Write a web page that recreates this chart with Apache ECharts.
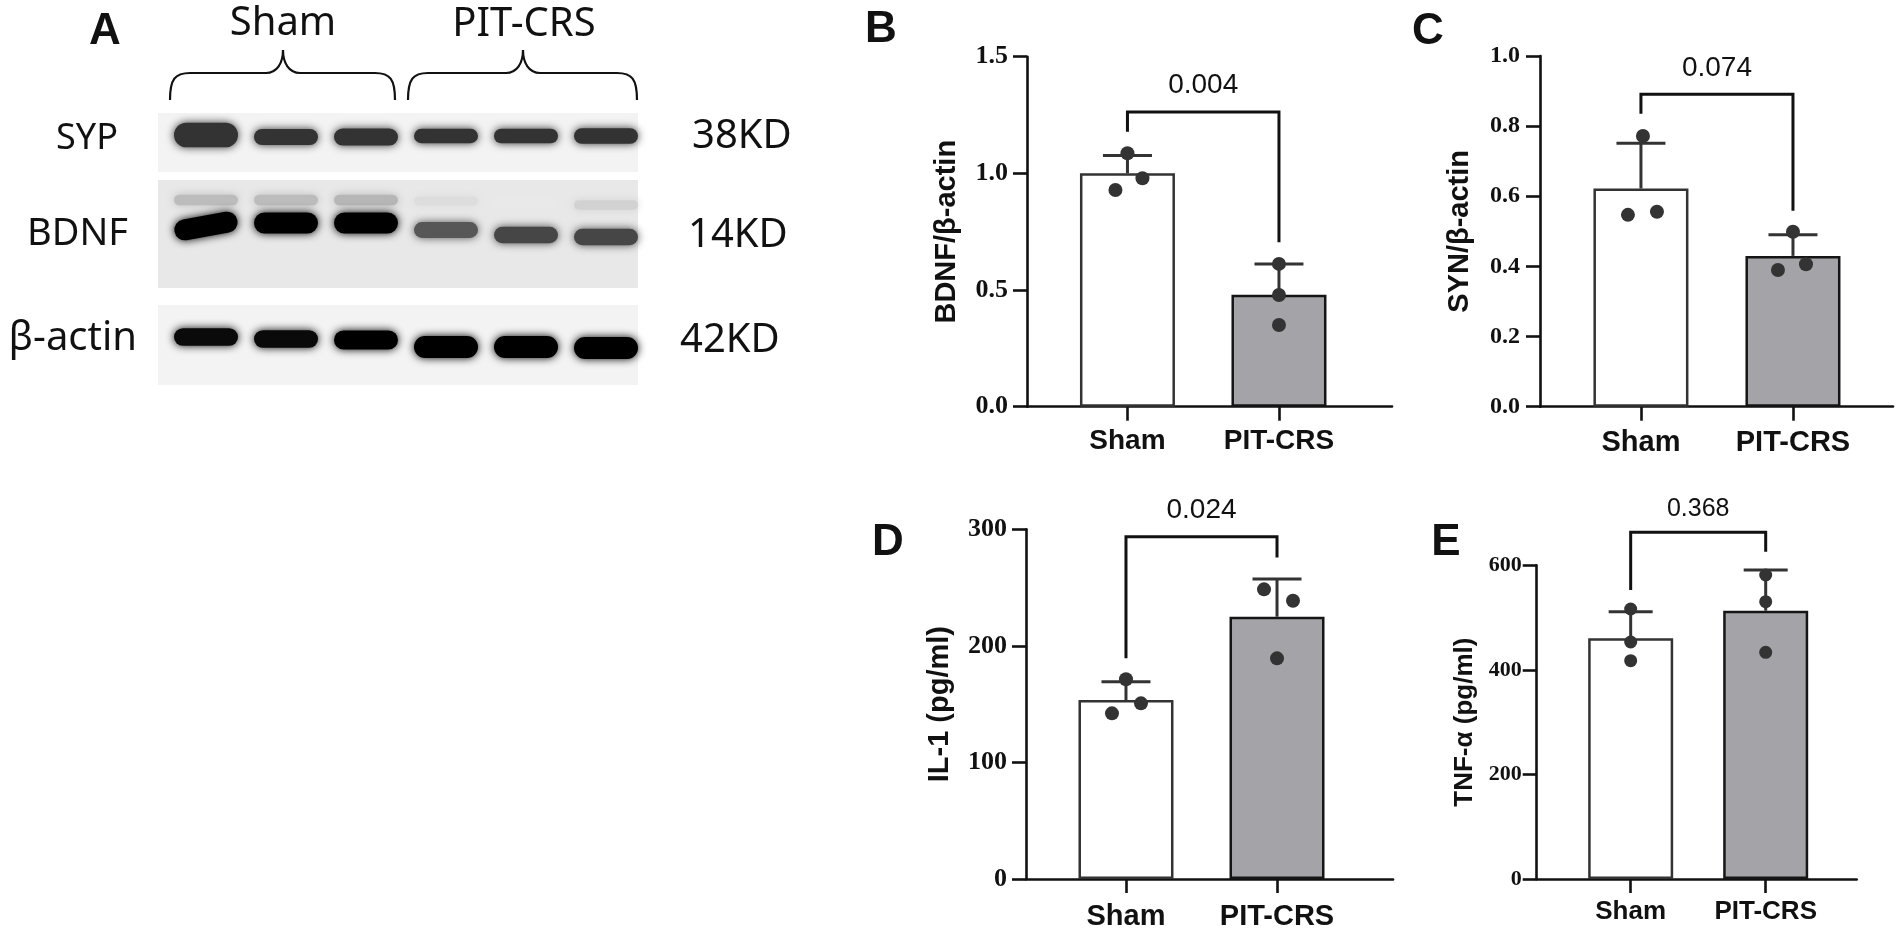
<!DOCTYPE html>
<html><head><meta charset="utf-8">
<script src="https://cdn.jsdelivr.net/npm/echarts@6/dist/echarts.min.js"></script>
<style>html,body{margin:0;padding:0;background:#fff}#c{width:1902px;height:933px}</style>
</head><body><div id="c"></div><script>
// ---------------- data ----------------
const groups = ['Sham', 'PIT-CRS'];
const lanes = ['Sham-1', 'Sham-2', 'Sham-3', 'PIT-CRS-1', 'PIT-CRS-2', 'PIT-CRS-3'];
const proteins = ['SYP', 'BDNF', 'β-actin'];
const weights = ['38KD', '14KD', '42KD'];
// relative band intensity per lane (western blot, panel A)
const sypBand = [0.95, 0.62, 0.66, 0.55, 0.56, 0.6];
const bdnfBand = [1.0, 1.0, 1.0, 0.6, 0.66, 0.66];
const bdnfUpperBand = [0.24, 0.24, 0.26, 0.12, 0.08, 0.16];
const actinBand = [0.8, 0.8, 0.86, 1.0, 1.0, 1.0];

// panel B: BDNF/β-actin
const bdnfMean = [1.0, 0.48];
const bdnfUpper = [1.077, 0.612];
const bdnfSham = [1.086, 0.979, 0.929];
const bdnfPit = [0.612, 0.479, 0.35];
const bdnfBracket = [1.263, 1.178, 0.705];
const bdnfP = '0.004';
// panel C: SYN/β-actin
const synMean = [0.622, 0.430];
const synUpper = [0.751, 0.49];
const synSham = [0.772, 0.547, 0.556];
const synPit = [0.499, 0.390, 0.406];
const synBracket = [0.891, 0.835, 0.559];
const synP = '0.074';
// panel D: IL-1
const il1Mean = [153.5, 225];
const il1Upper = [169.2, 257.3];
const il1Sham = [171.3, 150.7, 142.1];
const il1Pit = [248.5, 238.7, 189.3];
const il1Bracket = [293.6, 189.3, 275.9];
const il1P = '0.024';
// panel E: TNF-α
const tnfMean = [460.4, 513.2];
const tnfUpper = [511.3, 591];
const tnfSham = [516.4, 453.3, 417.6];
const tnfPit = [581.4, 530.4, 433.6];
const tnfBracket = [663, 552.7, 626];
const tnfP = '0.368';

// ---------------- layout / style ----------------
const FILL = ['#ffffff', '#a4a4a8'];
const EDGE = ['#333333', '#151515'];
const panels = [
  {title:'BDNF/β-actin', mean:bdnfMean, upper:bdnfUpper, pts:[bdnfSham, bdnfPit], br:bdnfBracket, p:bdnfP,
   jit:[[0,15,-12],[0,0,0]], ax:1027, top:56.7, bot:406.7, xEnd:1392, xmin:-0.663, xmax:1.746,
   yMax:1.5, yInt:0.5, dec:1, barW:95, capW:49, dot:14, yLabSize:26, yLabMargin:19,
   xLabSize:28, xLabMargin:21, titleSize:29, nameGap:66, pSize:28, pGap:26.7},
  {title:'SYN/β-actin', mean:synMean, upper:synUpper, pts:[synSham, synPit], br:synBracket, p:synP,
   jit:[[2,-13,16],[0,-15,13]], ax:1540, top:56, bot:406.7, xEnd:1893, xmin:-0.664, xmax:1.658,
   yMax:1.0, yInt:0.2, dec:1, barW:95, capW:49, dot:14, yLabSize:24, yLabMargin:20,
   xLabSize:29, xLabMargin:21.5, titleSize:29, nameGap:65.5, pSize:28, pGap:25.7},
  {title:'IL-1 (pg/ml)', mean:il1Mean, upper:il1Upper, pts:[il1Sham, il1Pit], br:il1Bracket, p:il1P,
   jit:[[0,15,-14],[-13,16,0]], ax:1026, top:529.3, bot:879, xEnd:1393, xmin:-0.662, xmax:1.768,
   yMax:300, yInt:100, dec:0, barW:95, capW:49, dot:14, yLabSize:26, yLabMargin:19,
   xLabSize:29, xLabMargin:23, titleSize:29, nameGap:71.5, pSize:28, pGap:26.7},
  {title:'TNF-α (pg/ml)', mean:tnfMean, upper:tnfUpper, pts:[tnfSham, tnfPit], br:tnfBracket, p:tnfP,
   jit:[[0,0,0],[0,0,0]], ax:1536.7, top:565.3, bot:879, xEnd:1856.7, xmin:-0.696, xmax:1.674,
   yMax:600, yInt:200, dec:0, barW:85, capW:44, dot:13, yLabSize:22, yLabMargin:15,
   xLabSize:26, xLabMargin:19.5, titleSize:26, nameGap:59, pSize:25, pGap:23}
];

const grids = [], xAxes = [], yAxes = [], series = [];
const AX = '#111';
panels.forEach((P, i) => {
  grids.push({left:P.ax, top:P.top, width:P.xEnd - P.ax, height:P.bot - P.top, containLabel:false, outerBoundsMode:'none'});
  xAxes.push({gridIndex:i, type:'value', min:P.xmin, max:P.xmax,
    axisLine:{show:true, onZero:false, lineStyle:{color:AX, width:2.6}},
    axisTick:{show:true, customValues:[0,1], length:14, lineStyle:{color:AX, width:2.6}},
    axisLabel:{show:true, customValues:[0,1], formatter:v => groups[Math.round(v)], margin:P.xLabMargin,
      fontFamily:'Liberation Sans', fontWeight:'bold', fontSize:P.xLabSize, color:AX},
    splitLine:{show:false}});
  yAxes.push({gridIndex:i, type:'value', min:0, max:P.yMax, interval:P.yInt,
    axisLine:{show:true, onZero:false, lineStyle:{color:AX, width:2.6}},
    axisTick:{show:true, length:14, lineStyle:{color:AX, width:2.6}},
    axisLabel:{formatter:v => v.toFixed(P.dec), margin:P.yLabMargin,
      fontFamily:'Liberation Serif', fontWeight:'bold', fontSize:P.yLabSize, color:AX},
    splitLine:{show:false},
    name:P.title, nameLocation:'middle', nameGap:P.nameGap, nameRotate:90, nameMoveOverlap:false,
    nameTextStyle:{fontFamily:'Liberation Sans', fontWeight:'bold', fontSize:P.titleSize, color:AX}});
  series.push({type:'bar', xAxisIndex:i, yAxisIndex:i, barWidth:P.barW, z:2,
    data:P.mean.map((m, j) => ({value:[j, m], itemStyle:{color:FILL[j], borderColor:EDGE[j], borderWidth:2.5}}))});
  series.push({type:'custom', xAxisIndex:i, yAxisIndex:i, z:3,
    data:P.mean.map((m, j) => [j, m, P.upper[j]]),
    renderItem:(params, api) => {
      const x = api.value(0), p0 = api.coord([x, api.value(1)]), p1 = api.coord([x, api.value(2)]);
      const h = P.capW / 2;
      return {type:'group', children:[
        {type:'line', shape:{x1:p0[0], y1:p0[1], x2:p1[0], y2:p1[1]}, style:{stroke:'#333', lineWidth:3}},
        {type:'line', shape:{x1:p1[0]-h, y1:p1[1], x2:p1[0]+h, y2:p1[1]}, style:{stroke:'#333', lineWidth:3}}]};
    }});
  series.push({type:'scatter', xAxisIndex:i, yAxisIndex:i, z:4, symbolSize:P.dot,
    itemStyle:{color:'#333', opacity:1},
    data:P.pts.flatMap((pts, j) => pts.map((v, k) => ({value:[j, v], symbolOffset:[P.jit[j][k], 0]})))});
  series.push({type:'custom', xAxisIndex:i, yAxisIndex:i, z:5,
    data:[[0.5, P.br[0], P.br[1], P.br[2]]],
    renderItem:(params, api) => {
      const top = api.value(1);
      const a = api.coord([0, api.value(2)]), b = api.coord([0, top]), c = api.coord([1, top]), d = api.coord([1, api.value(3)]);
      return {type:'group', children:[
        {type:'polyline', shape:{points:[a, b, c, d]}, style:{stroke:'#111', lineWidth:3, fill:'none'}},
        {type:'text', style:{text:P.p, x:(b[0]+c[0])/2, y:b[1]-P.pGap, align:'center', verticalAlign:'middle',
          textAlign:'center', textVerticalAlign:'middle', font:P.pSize + 'px "Liberation Sans"', fill:'#111'}}]};
    }});
});

// ---------------- western blot (panel A) ----------------
const BI = panels.length;
grids.push({left:166, top:88, width:480, height:300, containLabel:false, outerBoundsMode:'none'});
xAxes.push({gridIndex:BI, type:'category', data:lanes, show:false});
yAxes.push({gridIndex:BI, type:'category', data:proteins, inverse:true, show:false});
// strip: [top offset, bottom offset, colour] relative to the row centre
const STRIP = [[-25, 34, '#f3f3f3'], [-58, 50, '#e8e8e8'], [-33, 47, '#f3f3f3']];
series.push({type:'custom', xAxisIndex:BI, yAxisIndex:BI, z:1,
  data:proteins.map((p, r) => [0, r]),
  renderItem:(params, api) => {
    const r = api.value(1), c = api.coord([0, r]), cs = params.coordSys, s = STRIP[r];
    return {type:'rect', shape:{x:cs.x - 8, y:c[1] + s[0], width:cs.width, height:s[1] - s[0]},
      style:{fill:s[2]}};
  }});
// band look: per-lane vertical shift, thickness = t0 + t1*v, ink = inkMax*min(1, v*gain)
function bandSeries(vals, row, shifts, t0, t1, inkMax, gain, tilt) {
  return {type:'custom', xAxisIndex:BI, yAxisIndex:BI, z:2,
    data:vals.map((v, l) => [l, row, v]),
    renderItem:(params, api) => {
      const l = api.value(0), r = api.value(1), v = api.value(2);
      const c = api.coord([l, r]);
      const bw = api.size([1, 0])[0] * 0.8;
      const t = t0 + t1 * v;
      const g = Math.round(255 * (1 - inkMax * Math.min(1, v * gain)));
      const col = 'rgb(' + g + ',' + g + ',' + g + ')';
      const cy = c[1] + shifts[l];
      return {type:'rect', shape:{x:c[0] - bw/2, y:cy - t/2, width:bw, height:t, r:t/2},
        rotation:(tilt && tilt[l]) || 0, originX:c[0], originY:cy,
        style:{fill:col, shadowBlur:9, shadowColor:col}};
    }};
}
series.push(bandSeries(bdnfUpperBand, 1, [-38,-38,-38,-37,-35,-33], 8, 10, 1.0, 1.1));
series.push(bandSeries(sypBand, 0, [-3,-1,-1,-2,-2,-2], 0, 26, 0.8, 2.0));
series.push(bandSeries(bdnfBand, 1, [-12,-15,-15,-8,-3,-1], 8, 13, 1.0, 1.1, [0.18,0,0,0,0,0]));
series.push(bandSeries(actinBand, 2, [-1,1,2,9,9,10], 0, 22, 1.0, 1.2));

// ---------------- decorations ----------------
function txt(t, x, y, font, align) {
  return {type:'text', x:x, y:y, style:{text:t, font:font, fill:'#111', align:align || 'center', verticalAlign:'middle',
    textAlign:align || 'center', textVerticalAlign:'middle'}};
}
function brace(x0, x1, xm, yEnd, yBar, yPeak) {
  const st = {stroke:'#111', lineWidth:2.2, fill:'none'};
  return [
    {type:'bezierCurve', shape:{x1:x0, y1:yEnd, cpx1:x0, cpy1:yBar + 6, cpx2:x0 + 5, cpy2:yBar, x2:x0 + 20, y2:yBar}, style:st},
    {type:'line', shape:{x1:x0 + 20, y1:yBar, x2:xm - 17, y2:yBar}, style:st},
    {type:'bezierCurve', shape:{x1:xm - 17, y1:yBar, cpx1:xm - 6, cpy1:yBar, cpx2:xm, cpy2:yBar - 10, x2:xm, y2:yPeak}, style:st},
    {type:'bezierCurve', shape:{x1:xm, y1:yPeak, cpx1:xm, cpy1:yBar - 10, cpx2:xm + 6, cpy2:yBar, x2:xm + 17, y2:yBar}, style:st},
    {type:'line', shape:{x1:xm + 17, y1:yBar, x2:x1 - 20, y2:yBar}, style:st},
    {type:'bezierCurve', shape:{x1:x1 - 20, y1:yBar, cpx1:x1 - 5, cpy1:yBar, cpx2:x1, cpy2:yBar + 6, x2:x1, y2:yEnd}, style:st}
  ];
}
const LET = 'bold 44px "Liberation Sans"';
const BL = '40px "Noto Sans"';
const graphics = [
  txt('A', 105, 32, LET), txt('B', 881, 30, LET), txt('C', 1428, 32, LET), txt('D', 888, 543, LET), txt('E', 1446, 543, LET),
  txt(groups[0], 283, 24, BL), txt(groups[1], 524, 25, BL),
  txt(proteins[0], 118, 139, '36px "Noto Sans"', 'right'), txt(proteins[1], 128, 234, '38px "Noto Sans"', 'right'),
  txt(proteins[2], 137, 339, BL, 'right'),
  txt(weights[0], 692, 137, BL, 'left'), txt(weights[1], 688, 236, BL, 'left'), txt(weights[2], 680, 341, BL, 'left'),
  ...brace(170, 395, 283, 100, 73, 50),
  ...brace(408, 637, 523, 100, 73, 50)
];

const chart = echarts.init(document.getElementById('c'), null, {renderer:'canvas'});
chart.setOption({
  animation:false, backgroundColor:'#ffffff',
  grid:grids, xAxis:xAxes, yAxis:yAxes, series:series,
  graphic:{elements:graphics}
});
</script></body></html>
